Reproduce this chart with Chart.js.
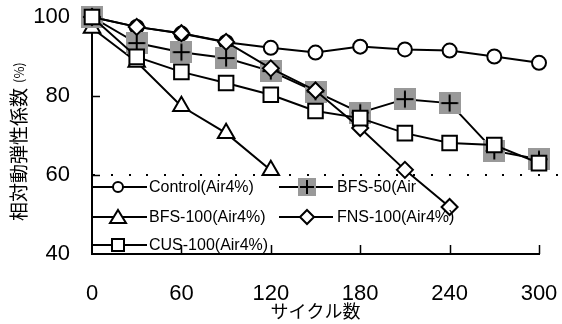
<!DOCTYPE html>
<html><head><meta charset="utf-8">
<script src="https://cdn.jsdelivr.net/npm/chart.js@4/dist/chart.umd.min.js"></script>
<style>html,body{margin:0;padding:0;background:#fff;}#wrap{width:562px;height:324px;}</style>
</head><body><div id="wrap"><canvas id="c" width="562" height="324"></canvas></div>
<script>
// ---- data ----
const cycles = [0, 30, 60, 90, 120, 150, 180, 210, 240, 270, 300];
const control = [100, 97.5, 95.8, 93.6, 92.2, 91.0, 92.5, 91.8, 91.5, 90.0, 88.4];
const bfs50 = [100, 93.4, 91.1, 89.6, 86.3, 81.1, 75.8, 79.2, 78.2, 66.1, 64.0];
const bfs100 = [97.2, 88.6, 77.4, 70.6, 61.2];
const fns100 = [100, 97.5, 95.9, 93.7, 87.0, 81.4, 71.9, 61.3, 51.9];
const cus100 = [100, 89.9, 86.1, 83.3, 80.3, 76.2, 74.4, 70.6, 68.1, 67.6, 63.0];
const seriesLabels = ['Control(Air4%)', 'BFS-50(Air', 'BFS-100(Air4%)', 'FNS-100(Air4%)', 'CUS-100(Air4%)'];
const xTickValues = [0, 60, 120, 180, 240, 300];
const yTickValues = [40, 60, 80, 100];
const yTitle = '相対動弾性係数';
const yUnit = '(%)';
const xTitle = 'サイクル数';
const limitLine = 60;

// ---- styling helpers ----
const GREY = '#999999';
function makePlus(size, arm, lw) {
  const c = document.createElement('canvas');
  c.width = size; c.height = size;
  const g = c.getContext('2d');
  g.fillStyle = GREY; g.fillRect(0, 0, size, size);
  g.strokeStyle = '#000'; g.lineWidth = lw;
  const m = size / 2;
  g.beginPath();
  g.moveTo(m - arm / 2, m); g.lineTo(m + arm / 2, m);
  g.moveTo(m, m - arm / 2); g.lineTo(m, m + arm / 2);
  g.stroke();
  return c;
}
const plusBig = makePlus(22, 17, 2);
const plusSmall = makePlus(18, 14, 2);

function pts(vals) { return vals.map((v, i) => ({x: cycles[i], y: v})); }

const base = {borderColor: '#000', borderWidth: 2, pointBorderColor: '#000', pointBackgroundColor: '#fff',
  pointBorderWidth: 2, tension: 0, clip: false, fill: false};

const datasets = [
  Object.assign({}, base, {label: seriesLabels[0], data: pts(control), pointStyle: 'circle', pointRadius: 7, order: 4}),
  Object.assign({}, base, {label: seriesLabels[1], data: pts(bfs50), pointStyle: plusBig, pointRadius: 11, order: 2}),
  Object.assign({}, base, {label: seriesLabels[2], data: pts(bfs100), pointStyle: 'triangle', pointRadius: 9.5, order: 3}),
  Object.assign({}, base, {label: seriesLabels[3], data: pts(fns100), pointStyle: 'rectRot', pointRadius: 8, order: 1}),
  Object.assign({}, base, {label: seriesLabels[4], data: pts(cus100), pointStyle: 'rect', pointRadius: 10.3, order: 0})
];

function drawMarker(ctx, kind, x, y) {
  ctx.save();
  ctx.fillStyle = '#fff'; ctx.strokeStyle = '#000'; ctx.lineWidth = 2;
  ctx.beginPath();
  if (kind === 'circle') { ctx.arc(x, y, 5, 0, Math.PI * 2); }
  else if (kind === 'triangle') { ctx.moveTo(x, y - 7); ctx.lineTo(x + 8, y + 6); ctx.lineTo(x - 8, y + 6); ctx.closePath(); }
  else if (kind === 'rect') { ctx.rect(x - 6, y - 6, 12, 12); }
  else if (kind === 'rectRot') { ctx.moveTo(x, y - 7); ctx.lineTo(x + 7, y); ctx.lineTo(x, y + 7); ctx.lineTo(x - 7, y); ctx.closePath(); }
  if (kind === 'plus') { ctx.drawImage(plusSmall, x - 9, y - 9); }
  else { ctx.fill(); ctx.stroke(); }
  ctx.restore();
}

const legendItems = [
  {ds: 0, kind: 'circle', col: 0, row: 0},
  {ds: 1, kind: 'plus', col: 1, row: 0},
  {ds: 2, kind: 'triangle', col: 0, row: 1},
  {ds: 3, kind: 'rectRot', col: 1, row: 1},
  {ds: 4, kind: 'rect', col: 0, row: 2}
];

const decor = {
  id: 'decor',
  beforeDatasetsDraw(chart) {
    const ctx = chart.ctx, xs = chart.scales.x, ys = chart.scales.y;
    const a = chart.chartArea;
    ctx.save();
    // dotted limit line
    const yl = Math.round(ys.getPixelForValue(limitLine));
    ctx.fillStyle = '#000';
    for (let x = a.left + 1; x < chart.width - 1; x += 17.8) ctx.fillRect(Math.round(x), yl - 1, 2, 2);
    // inner ticks
    ctx.strokeStyle = '#000'; ctx.lineWidth = 1.5;
    ctx.beginPath();
    xTickValues.forEach(v => { if (v === 0) return; const px = Math.round(xs.getPixelForValue(v)) + 0.5; ctx.moveTo(px, a.bottom); ctx.lineTo(px, a.bottom - 9); });
    yTickValues.forEach(v => { if (v === 40) return; const py = Math.round(ys.getPixelForValue(v)) + 0.5; ctx.moveTo(a.left, py); ctx.lineTo(a.left + 8, py); });
    ctx.stroke();
    ctx.restore();
  },
  afterDatasetsDraw(chart) {
    const ctx = chart.ctx;
    ctx.save();
    // legend
    const colLine = [[92, 147, 118, 149], [279, 333, 307, 337]];
    const rowY = [187, 217, 245];
    legendItems.forEach(it => {
      const c = colLine[it.col], y = rowY[it.row];
      ctx.strokeStyle = '#000'; ctx.lineWidth = 2;
      ctx.beginPath(); ctx.moveTo(c[0], y); ctx.lineTo(c[1], y); ctx.stroke();
      drawMarker(ctx, it.kind, c[2], y);
      ctx.fillStyle = '#000'; ctx.font = '16px "Liberation Sans", Arial, sans-serif';
      ctx.textAlign = 'left'; ctx.textBaseline = 'middle';
      ctx.fillText(chart.data.datasets[it.ds].label, c[3], y + 1);
    });
    // y title
    ctx.translate(19, 221); ctx.rotate(-Math.PI / 2);
    ctx.font = '19px "Noto Sans CJK JP", sans-serif'; ctx.textAlign = 'left'; ctx.textBaseline = 'middle';
    ctx.fillText(yTitle, 0, 0);
    const w = ctx.measureText(yTitle).width;
    ctx.font = '13px "Noto Sans CJK JP", sans-serif';
    ctx.fillText(yUnit, w + 5, 0);
    ctx.restore();
  }
};

new Chart(document.getElementById('c'), {
  type: 'line',
  data: {datasets},
  options: {
    responsive: false, animation: false, devicePixelRatio: 1,
    layout: {padding: {left: 0, top: 17, right: 23, bottom: 0}},
    plugins: {legend: {display: false}, tooltip: {enabled: false}},
    scales: {
      x: {type: 'linear', min: 0, max: 300,
        afterBuildTicks: s => { s.ticks = xTickValues.map(v => ({value: v})); },
        afterFit: s => { s.height = 70; s.paddingLeft = 0; s.paddingRight = 0; },
        grid: {display: false, drawTicks: false},
        border: {display: true, color: '#000', width: 2},
        ticks: {color: '#000', padding: 27, maxRotation: 0, autoSkip: false,
          font: {family: '"Liberation Sans", Arial, sans-serif', size: 22}},
        title: {display: true, text: xTitle, color: '#000', padding: {top: 0, bottom: 2},
          font: {family: '"Noto Sans CJK JP", sans-serif', size: 18}}
      },
      y: {type: 'linear', min: 40, max: 100,
        afterBuildTicks: s => { s.ticks = yTickValues.map(v => ({value: v})); },
        afterFit: s => { s.width = 92; s.paddingTop = 0; s.paddingBottom = 0; },
        grid: {display: false, drawTicks: false},
        border: {display: true, color: '#000', width: 2},
        ticks: {color: '#000', padding: 22,
          font: {family: '"Liberation Sans", Arial, sans-serif', size: 22}}
      }
    }
  },
  plugins: [decor]
});
</script></body></html>
